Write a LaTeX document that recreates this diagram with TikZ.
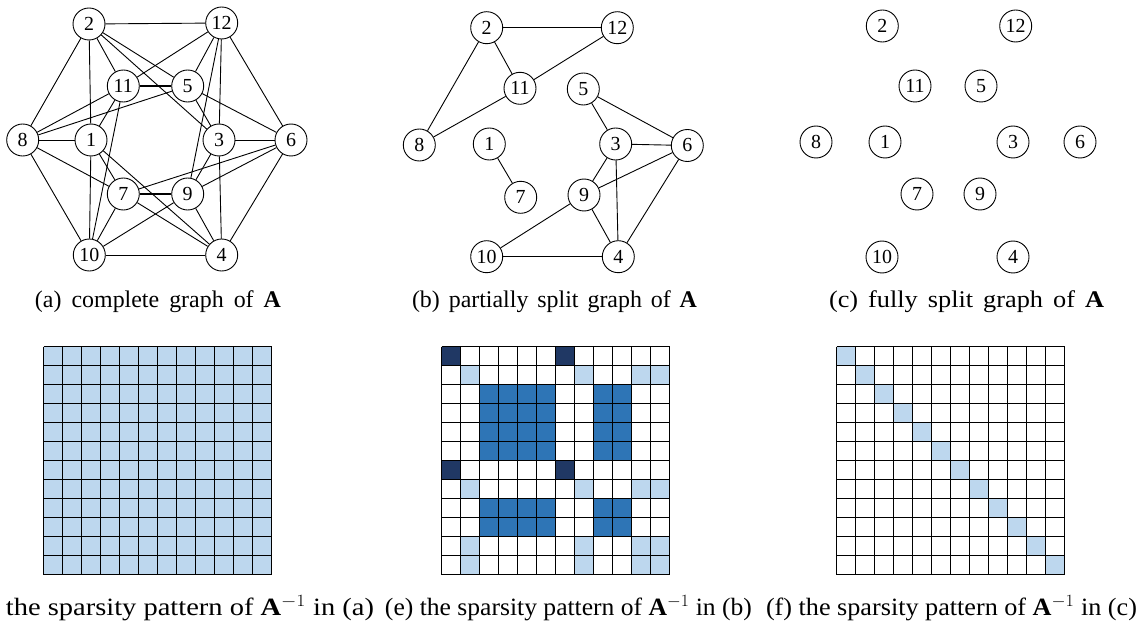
\documentclass[tikz,border=0pt]{standalone}
\usepackage{fontspec}
\usepackage{graphicx}
\setmainfont{Liberation Serif}
\definecolor{lightb}{RGB}{189,215,238}
\definecolor{midb}{RGB}{46,117,182}
\definecolor{darkb}{RGB}{32,56,100}
\begin{document}
\begin{tikzpicture}[x=1bp,y={(0bp,-1bp)},
  vtx/.style={circle,draw,line width=0.9bp,minimum size=32bp,inner sep=0pt,font=\fontsize{20}{20}\selectfont},
  edge/.style={line width=0.9bp},
  dbl/.style={line width=1.8bp},
  grd/.style={line width=1.7bp},
  capt/.style={anchor=base,inner sep=0pt,font=\fontsize{24}{28}\selectfont},
  captb/.style={anchor=base,inner sep=0pt,font=\fontsize{25}{30}\selectfont}]
\fill[white] (0,0) rectangle (1141,623);
\useasboundingbox (0,0) rectangle (1141,623);

% ---------- (a) complete graph ----------
\node[vtx] (a2)  at (89,24)   {2};
\node[vtx] (a12) at (221.7,23) {12};
\node[vtx] (a11) at (123.3,86) {11};
\node[vtx] (a5)  at (187.7,86) {5};
\node[vtx] (a8)  at (22.7,140) {8};
\node[vtx] (a1)  at (91,140)  {1};
\node[vtx] (a3)  at (219,140) {3};
\node[vtx] (a6)  at (291,140) {6};
\node[vtx] (a7)  at (123.3,194) {7};
\node[vtx] (a9)  at (187.7,194) {9};
\node[vtx] (a10) at (89.3,255) {10};
\node[vtx] (a4)  at (221.7,255) {4};
\foreach \u/\v in {2/12,2/8,2/1,2/11,2/5,2/3,12/11,12/5,12/3,12/9,12/6,
  11/8,11/1,11/10,5/8,5/3,5/6,8/1,8/7,8/10,1/7,1/10,1/4,3/6,3/9,3/4,
  6/7,6/9,6/4,7/10,7/4,9/10,9/4,10/4}
  \draw[edge] (a\u) -- (a\v);
\draw[dbl] (a11) -- (a5);
\draw[dbl] (a7) -- (a9);

% ---------- (b) partially split graph ----------
\node[vtx] (b2)  at (486.7,27.7) {2};
\node[vtx] (b12) at (617.3,27.7) {12};
\node[vtx] (b11) at (520,88.3)   {11};
\node[vtx] (b5)  at (583.3,89)   {5};
\node[vtx] (b8)  at (419.3,145)  {8};
\node[vtx] (b1)  at (489.3,144)  {1};
\node[vtx] (b3)  at (615.7,144)  {3};
\node[vtx] (b6)  at (687.3,145.5) {6};
\node[vtx] (b7)  at (520.7,197.3) {7};
\node[vtx] (b9)  at (584,195)    {9};
\node[vtx] (b10) at (486.7,256.7) {10};
\node[vtx] (b4)  at (618.3,256.7) {4};
\foreach \u/\v in {2/12,2/8,2/11,12/11,11/8,1/7,5/3,5/6,3/6,3/9,3/4,9/6,9/10,9/4,10/4,6/4}
  \draw[edge] (b\u) -- (b\v);

% ---------- (c) fully split graph ----------
\node[vtx] (c2)  at (882.3,26) {2};
\node[vtx] (c12) at (1015.7,26) {12};
\node[vtx] (c11) at (915,86)  {11};
\node[vtx] (c5)  at (981,86)  {5};
\node[vtx] (c8)  at (816,142) {8};
\node[vtx] (c1)  at (885,142) {1};
\node[vtx] (c3)  at (1013,142) {3};
\node[vtx] (c6)  at (1080,142) {6};
\node[vtx] (c7)  at (917,194) {7};
\node[vtx] (c9)  at (980,194) {9};
\node[vtx] (c10) at (882,257) {10};
\node[vtx] (c4)  at (1013,257) {4};

% ---------- captions top ----------
\node[capt] (ca) at (158,308)   {\makebox[246bp][s]{(a) complete graph of \textbf{A}}};
\node[capt] (cb) at (554.5,308) {\makebox[285bp][s]{(b) partially split graph of \textbf{A}}};
\node[capt] (cc) at (966.5,308) {\resizebox{275bp}{\height}{\makebox[250bp][s]{(c) fully split graph of \textbf{A}}}};

% ---------- matrices ----------
% (a)
\begin{scope}[shift={(43.5,346.5)},x=19bp,y={(0bp,-19bp)}]
  \fill[lightb] (0,0) rectangle (12,12);
  \foreach \i in {0,...,12} {
    \draw[grd] (\i,0) -- (\i,12);
    \draw[grd] (0,\i) -- (12,\i);
  }
\end{scope}
% (e)
\begin{scope}[shift={(441.5,346.5)},x=19bp,y={(0bp,-19bp)}]
  \foreach \r in {1,7} \foreach \c in {1,7}
    \fill[darkb] (\c-1,\r-1) rectangle (\c,\r);
  \foreach \r in {2,8,11,12} \foreach \c in {2,8,11,12}
    \fill[lightb] (\c-1,\r-1) rectangle (\c,\r);
  \foreach \r in {3,4,5,6,9,10} \foreach \c in {3,4,5,6,9,10}
    \fill[midb] (\c-1,\r-1) rectangle (\c,\r);
  \foreach \i in {0,...,12} {
    \draw[grd] (\i,0) -- (\i,12);
    \draw[grd] (0,\i) -- (12,\i);
  }
\end{scope}
% (f)
\begin{scope}[shift={(836.5,346.5)},x=19bp,y={(0bp,-19bp)}]
  \foreach \r in {1,...,12}
    \fill[lightb] (\r-1,\r-1) rectangle (\r,\r);
  \foreach \i in {0,...,12} {
    \draw[grd] (\i,0) -- (\i,12);
    \draw[grd] (0,\i) -- (12,\i);
  }
\end{scope}

% ---------- captions bottom ----------
\node[captb] (cd) at (190,615.5)   {\resizebox{368bp}{\height}{the sparsity pattern of \textbf{A}$^{-1}$ in (a)}};
\node[captb] (ce) at (568.5,615.5) {\resizebox{367bp}{\height}{(e) the sparsity pattern of \textbf{A}$^{-1}$ in (b)}};
\node[captb] (cf) at (951.5,615.5) {\resizebox{371bp}{\height}{(f) the sparsity pattern of \textbf{A}$^{-1}$ in (c)}};
\end{tikzpicture}
\end{document}
